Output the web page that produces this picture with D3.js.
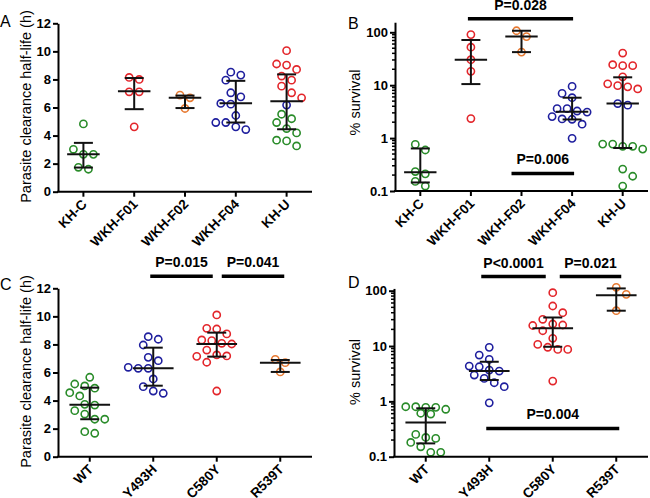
<!DOCTYPE html>
<html><head><meta charset="utf-8">
<script src="https://cdn.jsdelivr.net/npm/d3@7"></script>
<style>body{margin:0;background:#fff}svg{display:block}</style>
</head><body><svg id="c" width="650" height="498"></svg>
<script>
// ---------------- data ----------------
const catsTop = ["KH-C","WKH-F01","WKH-F02","WKH-F04","KH-U"];
const catsBottom = ["WT","Y493H","C580Y","R539T"];
const linTicks = [0,2,4,6,8,10,12];
const logTicks = [0.1,1,10,100];

// Panel A: parasite clearance half-life (h)
const halfLifeA = [
  [4.83,3.02,2.66,2.66,1.74,1.6],
  [8.14,8.0,7.12,7.12,4.62],
  [6.88,6.69,5.93],
  [8.52,8.31,7.95,7.05,6.76,6.29,6.24,5.43,4.93,4.93,4.62,4.43],
  [10.05,9.10,9.02,8.71,8.24,7.95,7.52,7.05,6.69,6.17,5.52,5.2,4.93,4.5,4.19,3.67,3.62,3.26]
];
const colorA = ["gggggg","rrrrr","ooo","bbbbbbbbbbbb","rrrrrrrrrbgggggggg"];
const medA = [2.66,7.15,6.69,6.3,6.45];
const q1A  = [1.72,5.88,5.96,4.93,4.45];
const q3A  = [3.48,8.1,6.85,7.9,8.36];

// Panel B: % survival
const survivalB = [
  [0.76,0.596,0.233,0.211,0.152,0.124],
  [90.4,52.3,30.3,18.3,2.34],
  [107,83,42.2],
  [9.5,7.0,5.8,3.6,3.6,3.25,3.1,2.55,2.3,2.27,1.83,0.99],
  [40.5,24.4,23.4,23.4,14.4,10.6,9.8,9.3,8.5,4.5,4.2,0.77,0.77,0.70,0.70,0.62,0.26,0.19,0.124]
];
const colorB = ["gggggg","rrrrr","ooo","bbbbbbbbbbbb","rrrrrrrrrbbgggggggg"];
const medB = [0.225,30.3,83,3.15,4.5];
const q1B  = [0.145,10.5,42.2,2.25,0.65];
const q3B  = [0.637,71.5,107,5.8,14.1];

// Panel C: parasite clearance half-life (h) by genotype
const halfLifeC = [
  [5.66,5.18,5.04,4.88,4.56,4.33,3.73,3.68,3.28,3.04,2.67,2.67,1.78,1.67],
  [8.55,8.37,7.96,7.08,6.84,6.37,6.30,6.30,5.54,4.99,4.68,4.52],
  [10.1,9.15,9.1,8.75,8.32,8.27,8.08,8.03,7.6,7.25,7.18,7.15,6.73,4.68],
  [6.94,6.70,6.04]
];
const colorC = ["gggggggggggggg","bbbbbbbbbbbb","rrrrrrrrrrrrrr","ooo"];
const medC = [3.7,6.3,8.03,6.7];
const q1C  = [2.67,5.06,7.13,6.04];
const q3C  = [4.92,7.77,8.84,6.89];

// Panel D: % survival by genotype
const survivalD = [
  [0.80,0.80,0.78,0.78,0.72,0.61,0.59,0.253,0.223,0.214,0.181,0.151,0.12,0.12],
  [9.47,6.88,5.74,4.35,4.22,3.68,3.53,2.99,2.6,2.17,1.84,0.94],
  [92,52.9,40,30.4,25,24,23.5,18.9,13.8,10.7,9.5,8.7,8.7,2.33],
  [115,86,43.5]
];
const colorD = ["gggggggggggggg","bbbbbbbbbbbb","rrrrrrrrrrrrrr","ooo"];
const medD = [0.415,3.55,20.9,83];
const q1D  = [0.174,2.43,9.7,43.5];
const q3D  = [0.75,5.2,32.8,110];

// significance annotations: [from category, to category, label, bar value]
const sigB = [["WKH-F01","WKH-F04","P=0.028",180],["WKH-F02","WKH-F04","P=0.006",0.215]];
const sigC = [["Y493H","C580Y","P=0.015",12.85],["C580Y","R539T","P=0.041",12.85]];
const sigD = [["Y493H","C580Y","P<0.0001",180],["C580Y","R539T","P=0.021",180],["Y493H","R539T","P=0.004",0.325]];

// ---------------- drawing ----------------
const palette = {g:"#2a8c2a", r:"#e3262b", o:"#e77a32", b:"#1f1f9e"};
const svg = d3.select("#c");
const FONT = "'Liberation Sans', Arial, sans-serif";

function swarm(ys, step, minD){
  const order = d3.range(ys.length).sort((a,b)=>ys[a]-ys[b]);
  const rows = [];
  for (const i of order){
    const last = rows[rows.length-1];
    if (last && ys[i]-ys[last[0]] < 6) last.push(i); else rows.push([i]);
  }
  const placed = [], offs = new Array(ys.length).fill(0);
  for (const row of rows){
    const n = row.length;
    const base = row.map((_,k)=>(k-(n-1)/2)*2*step);
    let chosen = base;
    for (const s of [0,step,-step,2*step,-2*step,3*step,-3*step]){
      const cand = base.map(v=>v+s);
      const ok = row.every((i,k)=>placed.every(p=>(p.x-cand[k])**2+(p.y-ys[i])**2 >= minD*minD));
      if (ok){ chosen = cand; break; }
    }
    row.forEach((i,k)=>{ offs[i]=chosen[k]; placed.push({x:chosen[k],y:ys[i]}); });
  }
  return offs;
}

function panel(cfg){
  const g = svg.append("g");
  const x = d3.scaleBand().domain(cfg.cats).range([cfg.x0,cfg.x1]).padding(0);
  const y = cfg.log
    ? d3.scaleLog().domain(cfg.domain).range(cfg.yRange)
    : d3.scaleLinear().domain(cfg.domain).range(cfg.yRange);
  const bw = x.bandwidth();
  const yAxisBottom = cfg.yRange[0];

  // points
  cfg.values.forEach((vals,ci)=>{
    const cx = x(cfg.cats[ci]) + bw/2;
    const ys = vals.map(v=>y(v));
    const offs = swarm(ys, 5, 9.2);
    g.append("g").selectAll("circle").data(vals).join("circle")
      .attr("cx",(d,i)=>cx+offs[i]).attr("cy",d=>y(d)).attr("r",3.6)
      .attr("fill","none").attr("stroke",(d,i)=>palette[cfg.colors[ci][i]])
      .attr("stroke-width",1.6);
  });
  // median + IQR
  cfg.cats.forEach((c,ci)=>{
    const cx = x(c)+bw/2;
    const gg = g.append("g").attr("stroke","#111").attr("stroke-width",2);
    gg.append("line").attr("x1",cx).attr("x2",cx).attr("y1",y(cfg.q1[ci])).attr("y2",y(cfg.q3[ci]));
    gg.append("line").attr("x1",cx-bw*0.32).attr("x2",cx+bw*0.32).attr("y1",y(cfg.med[ci])).attr("y2",y(cfg.med[ci]));
    [cfg.q1[ci],cfg.q3[ci]].forEach(v=>{
      gg.append("line").attr("x1",cx-9.5).attr("x2",cx+9.5).attr("y1",y(v)).attr("y2",y(v));
    });
  });

  // y axis
  const ya = d3.axisLeft(y).tickValues(cfg.ticks).tickSize(5).tickSizeOuter(0).tickPadding(2)
    .tickFormat(d=>String(d));
  const yg = g.append("g").attr("transform",`translate(${cfg.x0},0)`).call(ya);
  yg.select(".domain").attr("stroke","#000").attr("stroke-width",2);
  yg.selectAll(".tick line").attr("stroke","#000").attr("stroke-width",2);
  yg.selectAll(".tick text").attr("font-family",FONT).attr("font-size",13).attr("font-weight","bold").attr("fill","#000");
  if (cfg.log){
    const minor=[];
    for (let e=-1;e<=2;e++) for (let k=2;k<=9;k++){ const v=k*Math.pow(10,e); if (v>cfg.domain[0]&&v<cfg.domain[1]) minor.push(v); }
    g.append("g").selectAll("line").data(minor).join("line")
      .attr("x1",cfg.x0-3).attr("x2",cfg.x0).attr("y1",d=>y(d)).attr("y2",d=>y(d))
      .attr("stroke","#000").attr("stroke-width",1.5);
  }
  // x axis
  const xa = d3.axisBottom(x).tickSize(5).tickSizeOuter(0).tickFormat("");
  const xg = g.append("g").attr("transform",`translate(0,${yAxisBottom})`).call(xa);
  xg.select(".domain").attr("stroke","#000").attr("stroke-width",2).attr("d",`M${cfg.x0-1},0H${cfg.x1}`);
  xg.selectAll(".tick line").attr("stroke","#000").attr("stroke-width",2);
  g.append("g").selectAll("text").data(cfg.cats).join("text")
    .attr("transform",d=>`translate(${x(d)+bw/2+1},${yAxisBottom+10}) rotate(-45)`)
    .attr("text-anchor","end").attr("dy","0.35em")
    .attr("font-family",FONT).attr("font-size",13.5).attr("font-weight","bold").attr("fill","#000")
    .text(d=>d);

  // y title
  g.append("text").attr("transform",`translate(${cfg.titleX},${cfg.titleY}) rotate(-90)`)
    .attr("text-anchor","middle").attr("font-family",FONT).attr("font-size",14.5).attr("fill","#000")
    .text(cfg.title);
  // panel letter
  g.append("text").attr("x",cfg.letterX).attr("y",cfg.letterY).attr("font-family",FONT)
    .attr("font-size",16).attr("fill","#000").text(cfg.letter);

  // significance bars
  (cfg.sig||[]).forEach(([a,b,label,v],k)=>{
    const xa0 = x(a)+bw/2 + cfg.sigInset[k][0];
    const xb0 = x(b)+bw/2 + cfg.sigInset[k][1];
    const yy = y(v);
    g.append("line").attr("x1",xa0).attr("x2",xb0).attr("y1",yy).attr("y2",yy)
      .attr("stroke","#000").attr("stroke-width",3.5);
    g.append("text").attr("x",(xa0+xb0)/2).attr("y",yy-9).attr("text-anchor","middle")
      .attr("font-family",FONT).attr("font-size",14).attr("font-weight","bold").attr("fill","#000").text(label);
  });
}

panel({cats:catsTop,values:halfLifeA,colors:colorA,med:medA,q1:q1A,q3:q3A,
  x0:58,x1:312,log:false,domain:[0,12],yRange:[191.7,23.3],ticks:linTicks,
  title:"Parasite clearance half-life (h)",titleX:30.5,titleY:106.5,letter:"A",letterX:0,letterY:27});
panel({cats:catsTop,values:survivalB,colors:colorB,med:medB,q1:q1B,q3:q3B,
  x0:395,x1:648,log:true,domain:[0.1,155],yRange:[191,191-52.9*Math.log10(1550)],ticks:logTicks,
  title:"% survival",titleX:360,titleY:102.5,letter:"B",letterX:348,letterY:28.5,
  sig:sigB,sigInset:[[-3,1],[-10,2]]});
panel({cats:catsBottom,values:halfLifeC,colors:colorC,med:medC,q1:q1C,q3:q3C,
  x0:58,x1:312,log:false,domain:[0,12],yRange:[456.7,288.3],ticks:linTicks,
  title:"Parasite clearance half-life (h)",titleX:30.5,titleY:371.5,letter:"C",letterX:0,letterY:290,
  sig:sigC,sigInset:[[-3,-4],[5,4]]});
panel({cats:catsBottom,values:survivalD,colors:colorD,med:medD,q1:q1D,q3:q3D,
  x0:394,x1:648,log:true,domain:[0.1,110],yRange:[456.7,456.7-55.33*Math.log10(1100)],ticks:logTicks,
  title:"% survival",titleX:360,titleY:372,letter:"D",letterX:348,letterY:288,
  sig:sigD,sigInset:[[-8,-7],[7,5],[-3,3]]});
</script></body></html>
